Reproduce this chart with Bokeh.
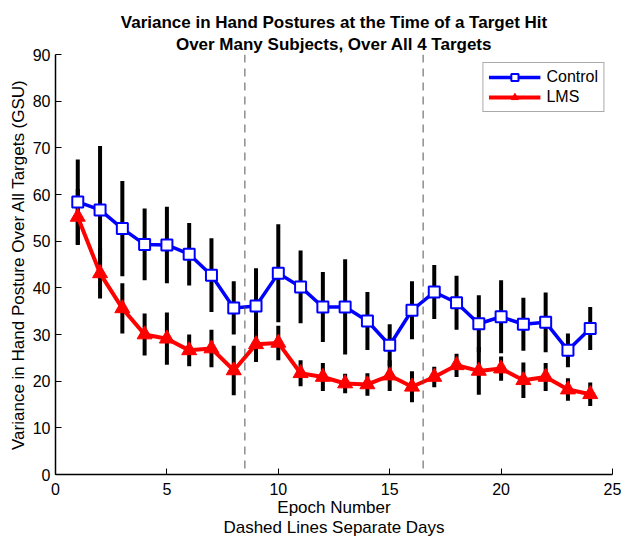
from bokeh.plotting import figure
from bokeh.models import Span, Title, ColumnDataSource, FixedTicker
from bokeh.embed import file_html
from bokeh.resources import INLINE

# ---- data ----
epochs = list(range(1, 25))
control = [58.4, 56.7, 52.7, 49.3, 49.2, 47.2, 42.7, 35.7, 36.1, 43.1, 40.2, 35.9,
           35.9, 32.9, 27.7, 35.2, 39.1, 36.8, 32.3, 33.8, 32.2, 32.6, 26.6, 31.3]
control_err = [9.1, 13.7, 10.2, 7.7, 8.2, 6.7, 7.9, 5.7, 8.1, 10.5, 7.8, 7.5,
               10.2, 6.2, 4.5, 6.2, 5.8, 5.8, 6.1, 7.8, 5.7, 6.4, 3.6, 4.6]
lms = [55.2, 43.1, 35.6, 30.0, 29.1, 26.6, 27.0, 22.3, 27.9, 28.2, 21.7, 20.9,
       19.5, 19.3, 21.2, 18.8, 20.9, 23.4, 22.2, 22.7, 20.2, 20.9, 18.2, 17.2]
lms_err = [6.0, 5.4, 5.4, 4.5, 5.6, 3.4, 4.0, 5.3, 3.8, 3.7, 2.8, 3.0,
           2.1, 2.4, 3.3, 3.3, 2.2, 2.5, 5.1, 2.6, 3.8, 3.0, 2.4, 2.5]
day_boundaries = [8.5, 16.5]
x_ticks = [0, 5, 10, 15, 20, 25]
y_ticks = [0, 10, 20, 30, 40, 50, 60, 70, 80, 90]
title_lines = ["Variance in Hand Postures at the Time of a Target Hit",
               "Over Many Subjects, Over All 4 Targets"]

FONT = "Liberation Sans"

ctrl_src = ColumnDataSource(dict(
    x=epochs, y=control,
    lo=[v - e for v, e in zip(control, control_err)],
    hi=[v + e for v, e in zip(control, control_err)]))
lms_src = ColumnDataSource(dict(
    x=epochs, y=lms,
    lo=[v - e for v, e in zip(lms, lms_err)],
    hi=[v + e for v, e in zip(lms, lms_err)]))

p = figure(width=621, height=546, x_range=(0, 25), y_range=(0, 90),
           output_backend="svg", toolbar_location=None,
           min_border_left=55, min_border_right=9, min_border_top=54, min_border_bottom=72)
p.title.text = ""
p.xgrid.visible = False
p.ygrid.visible = False
p.outline_line_color = None
p.background_fill_color = "white"
p.border_fill_color = "white"

# titles: the line added last sits farthest from the plot
for line, so in ((title_lines[1], 2), (title_lines[0], 0)):
    p.add_layout(Title(text=line, align="center", text_font=FONT, text_font_size="17px",
                       text_font_style="bold", text_color="black", standoff=so,
                       offset=0, text_line_height=0.9), "above")

# day separators
for b in day_boundaries:
    p.add_layout(Span(location=b, dimension="height", line_color="#555555",
                      line_width=1, line_dash="8 6"))

# error bars
p.segment(x0="x", y0="lo", x1="x", y1="hi", source=ctrl_src, line_color="black", line_width=4)
p.segment(x0="x", y0="lo", x1="x", y1="hi", source=lms_src, line_color="black", line_width=4)

# series
p.line("x", "y", source=ctrl_src, line_color="#0000FF", line_width=3.5, legend_label="Control")
p.scatter("x", "y", source=ctrl_src, marker="square", size=11, line_color="#0000FF",
          line_width=2, fill_color="white", legend_label="Control")
p.line("x", "y", source=lms_src, line_color="#FF0000", line_width=4, legend_label="LMS")
p.scatter("x", "y", source=lms_src, marker="triangle", size=15, line_color="#FF0000",
          line_width=1, fill_color="#FF0000", legend_label="LMS")

# axes
for ax in (p.xaxis[0], p.yaxis[0]):
    ax.axis_line_color = "black"
    ax.axis_line_width = 1.5
    ax.major_tick_in = 6
    ax.major_tick_out = 0
    ax.major_tick_line_color = "black"
    ax.major_tick_line_width = 1
    ax.minor_tick_line_color = None
    ax.major_label_text_font = FONT
    ax.major_label_text_font_size = "16px"
    ax.major_label_text_color = "black"
    ax.axis_label_text_font = FONT
    ax.axis_label_text_font_style = "normal"
    ax.axis_label_text_color = "black"

p.xaxis[0].axis_label_text_font_size = "17px"
p.yaxis[0].axis_label_text_font_size = "17px"
p.xaxis[0].ticker = FixedTicker(ticks=x_ticks)
p.yaxis[0].ticker = FixedTicker(ticks=y_ticks)
p.xaxis[0].major_label_standoff = 8
p.yaxis[0].major_label_standoff = 5
p.xaxis[0].axis_label = "Epoch Number\nDashed Lines Separate Days"
p.yaxis[0].axis_label = "Variance in Hand Posture Over All Targets (GSU)"
p.xaxis[0].axis_label_standoff = 0
p.xaxis[0].axis_label_text_line_height = 1.1
p.yaxis[0].axis_label_standoff = 2

# legend
lg = p.legend[0]
lg.location = "top_right"
lg.margin = 8
lg.padding = 5
lg.spacing = 2
lg.label_text_font = FONT
lg.label_text_font_size = "16px"
lg.label_text_color = "black"
lg.label_height = 18
lg.glyph_width = 52
lg.glyph_height = 18
lg.label_standoff = 6
lg.border_line_color = "#555555"
lg.border_line_width = 1
lg.background_fill_color = "white"
lg.background_fill_alpha = 1.0

open("out.html", "w").write(file_html(p, INLINE))
